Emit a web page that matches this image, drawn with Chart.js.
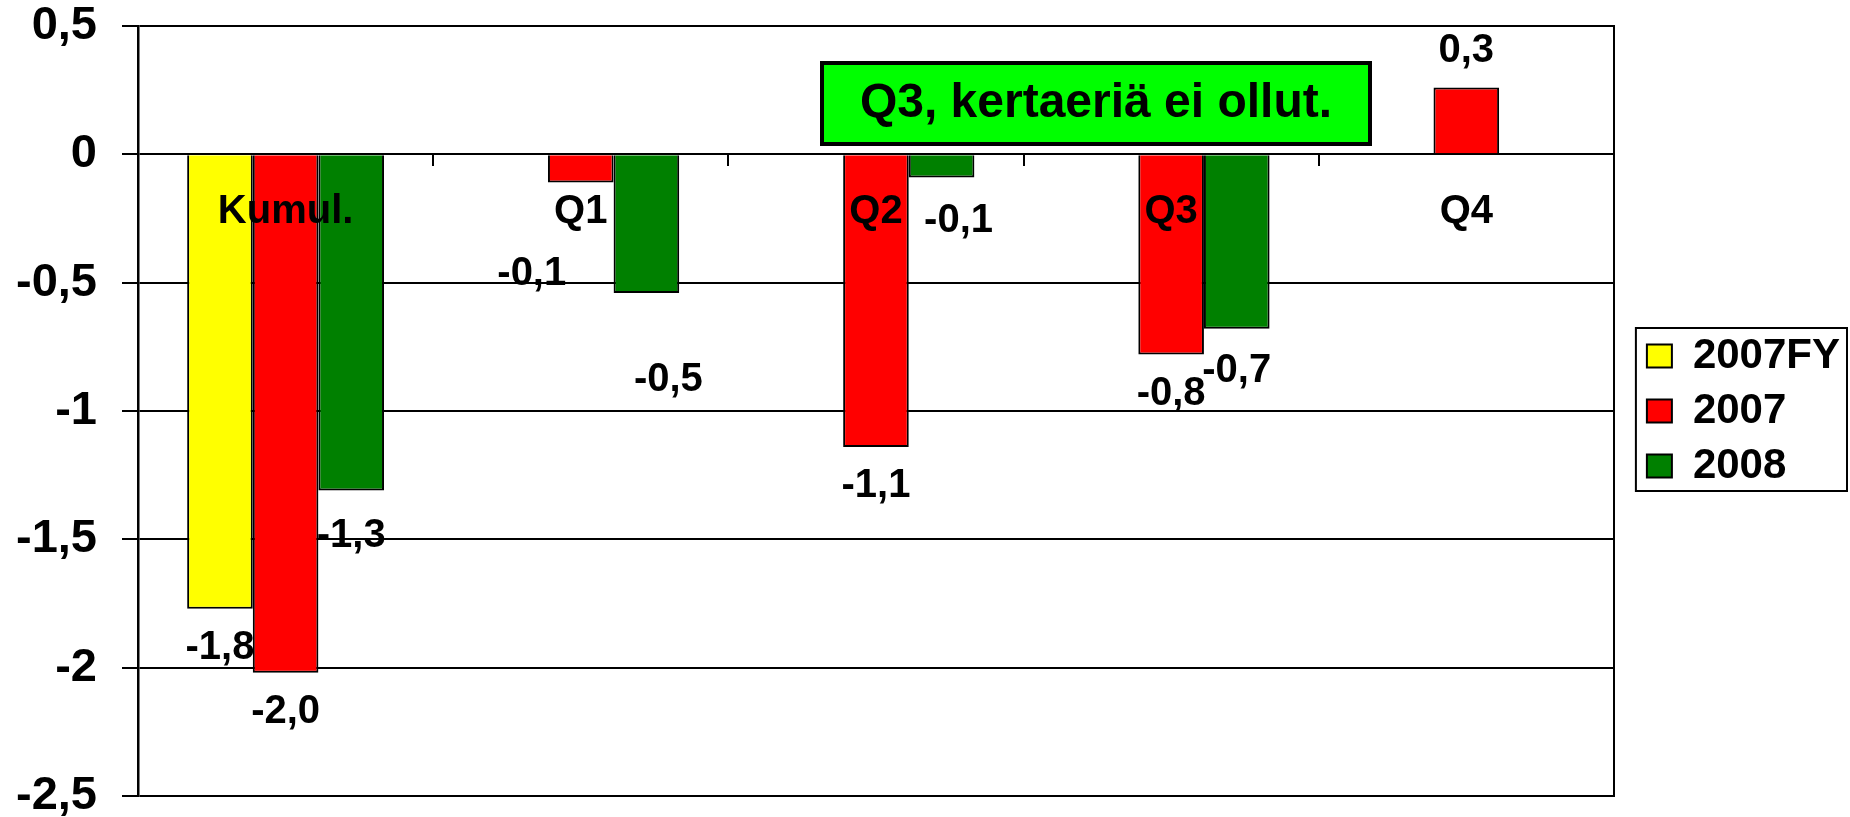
<!DOCTYPE html>
<html>
<head>
<meta charset="utf-8">
<script src="https://cdn.jsdelivr.net/npm/chart.js@4.4.1/dist/chart.umd.min.js"></script>
<style>
  html, body { margin: 0; padding: 0; background: #fff; overflow: hidden; }
</style>
</head>
<body>
<canvas id="chart" width="1850" height="817"></canvas>
<script>
const FONT = '"Liberation Sans", Arial, sans-serif';

// data
const categories = ["Kumul.", "Q1", "Q2", "Q3", "Q4"];
const seriesNames = ["2007FY", "2007", "2008"];
const fy2007 = [-1.77, null, null, null, null];
const y2007 = [-2.02, -0.11, -1.14, -0.78, 0.26];
const y2008 = [-1.31, -0.54, -0.09, -0.68, null];
const yTicks = { min: -2.5, max: 0.5, step: 0.5 };
const noteText = "Q3, kertaeriä ei ollut.";

// label nudges (px) where the original labels sit off their bars
const labelNudge = [
  [],
  [[0, 0], [-49, 52], [0, 0], [0, 0], [0, 0]],
  [[0, 6], [22, 48], [17, 5], [0, 3]]
];

const fmt = v => v.toFixed(1).replace(".", ",");

// value labels
const valueLabels = {
  id: "valueLabels",
  afterDatasetsDraw(chart) {
    const ctx = chart.ctx;
    ctx.save();
    ctx.font = "bold 40px " + FONT;
    ctx.fillStyle = "#000";
    ctx.textAlign = "center";
    ctx.textBaseline = "middle";
    chart.data.datasets.forEach((ds, di) => {
      chart.getDatasetMeta(di).data.forEach((bar, i) => {
        const v = ds.data[i];
        if (v === null || v === undefined) return;
        const n = labelNudge[di][i] || [0, 0];
        const y = v < 0 ? bar.y + 39 : bar.y - 37;
        ctx.fillText(fmt(v), bar.x + n[0], y + n[1]);
      });
    });
    ctx.restore();
  }
};

// green note box + legend frame
const extras = {
  id: "extras",
  afterDraw(chart) {
    const ctx = chart.ctx;
    ctx.save();
    ctx.fillStyle = "#00ff00";
    ctx.fillRect(822, 63, 548, 81);
    ctx.lineWidth = 4;
    ctx.strokeStyle = "#000";
    ctx.strokeRect(822, 63, 548, 81);
    ctx.fillStyle = "#000";
    ctx.font = "bold 48px " + FONT;
    ctx.textAlign = "center";
    ctx.textBaseline = "middle";
    ctx.fillText(noteText, 1096, 104);

    const lg = chart.legend;
    const boxes = lg.legendHitBoxes;
    if (boxes.length) {
      const top = boxes[0].top - 7;
      const last = boxes[boxes.length - 1];
      const bottom = last.top + last.height + 4;
      ctx.lineWidth = 2;
      ctx.strokeRect(lg.left + 2, top, lg.right - lg.left - 5, bottom - top);
    }
    ctx.restore();
  }
};

new Chart(document.getElementById("chart"), {
  type: "bar",
  data: {
    labels: categories,
    datasets: [
      { label: seriesNames[0], data: fy2007, backgroundColor: "#ffff00" },
      { label: seriesNames[1], data: y2007, backgroundColor: "#ff0000" },
      { label: seriesNames[2], data: y2008, backgroundColor: "#008000" }
    ].map(d => Object.assign(d, {
      borderColor: "#000",
      borderWidth: 2,
      categoryPercentage: 0.667,
      barPercentage: 1
    }))
  },
  options: {
    responsive: false,
    animation: false,
    layout: { padding: { top: 26, bottom: 21, left: 0, right: 0 } },
    plugins: {
      tooltip: { enabled: false },
      legend: {
        position: "right",
        labels: {
          color: "#000",
          font: { family: FONT, size: 42, weight: "bold" },
          boxWidth: 25,
          boxHeight: 23,
          padding: 13
        }
      }
    },
    scales: {
      x: {
        position: { y: 0 },
        grid: { drawOnChartArea: false, tickLength: 12, color: "#000", lineWidth: 2, z: 1 },
        border: { display: false },
        ticks: {
          z: 2,
          color: "#000",
          padding: 22,
          font: { family: FONT, size: 40, weight: "bold" }
        }
      },
      y: {
        min: yTicks.min,
        max: yTicks.max,
        afterFit: s => { s.width = 138; s.paddingTop = 0; s.paddingBottom = 0; },
        grid: { color: "#000", lineWidth: 2, tickLength: 16 },
        border: { color: "#000", width: 2.5 },
        ticks: {
          stepSize: yTicks.step,
          color: "#000",
          padding: 25,
          font: { family: FONT, size: 47, weight: "bold" },
          callback: v => String(v).replace(".", ",")
        }
      },
      y2: {
        position: "right",
        min: yTicks.min,
        max: yTicks.max,
        afterFit: s => { s.width = 20; s.paddingTop = 0; s.paddingBottom = 0; },
        grid: { display: false },
        border: { color: "#000", width: 2 },
        ticks: { display: false }
      }
    }
  },
  plugins: [valueLabels, extras]
});
</script>
</body>
</html>
